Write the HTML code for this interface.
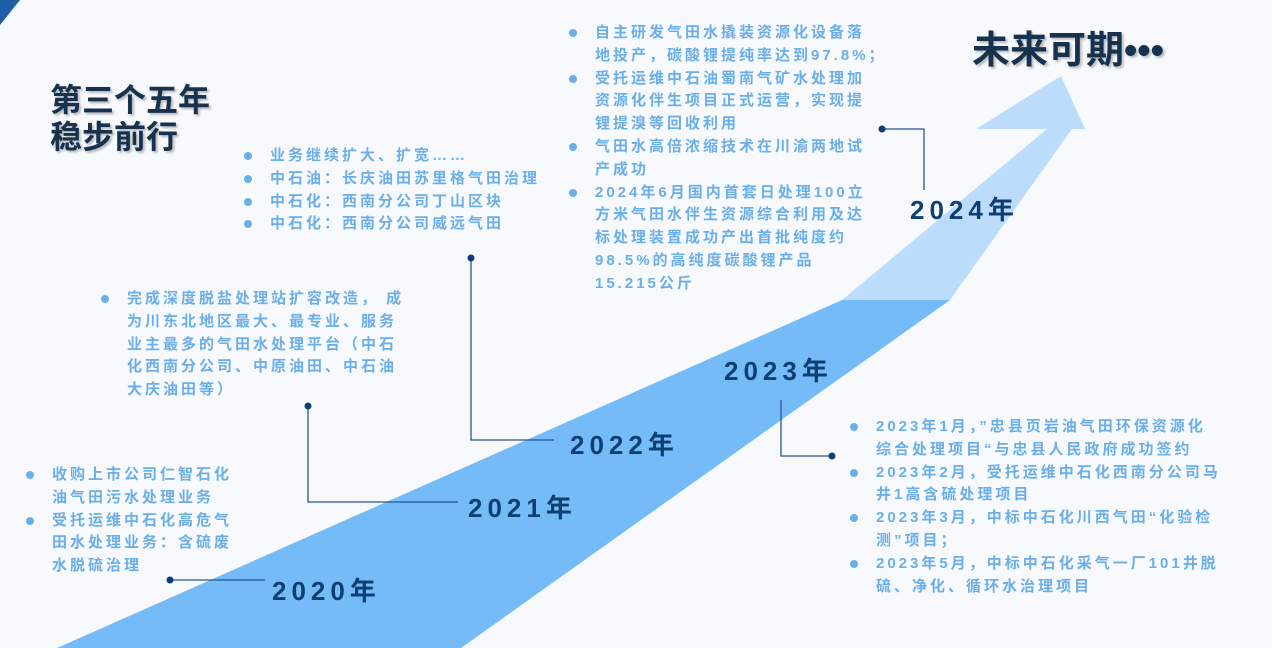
<!DOCTYPE html>
<html><head><meta charset="utf-8"><style>
*{margin:0;padding:0}
body{width:1272px;height:648px;background:#f7f9fc;position:relative;overflow:hidden;font-family:"Liberation Sans","Noto Sans CJK SC",sans-serif}
svg{position:absolute;left:0;top:0}
.t{position:absolute;color:#6aaeea;font-weight:bold;font-size:15px;line-height:22.8px;letter-spacing:3px;white-space:nowrap}
.t div{position:relative}
.t div.b::before{content:"";position:absolute;left:-26px;top:7px;width:8px;height:8px;border-radius:50%;background:#6aaeea}
.y{position:absolute;color:#0e3f74;font-weight:bold;font-size:26px;letter-spacing:5px;white-space:nowrap;line-height:30px}
.h{position:absolute;color:#17324f;font-weight:bold;white-space:nowrap;text-shadow:2px 2px 2px rgba(0,0,0,0.25)}
</style></head><body>
<svg width="1272" height="648">
<polygon points="0,0 20,0 0,25" fill="#1f5fa8"/>
<polygon points="57,648 842,300 950,300 461,648" fill="#74bbf8"/>
<polygon points="842,300 1047,129 976,129 1061,76 1085,129 1072,129 950,300" fill="#bbddfb"/>
<g stroke="#24578f" stroke-width="1.3" fill="none">
<polyline points="170,580 265,580"/>
<polyline points="308,406 308,502 458,502"/>
<polyline points="471,258 471,440 554,440"/>
<polyline points="781,400 781,456 832,456"/>
<polyline points="882,129 924,129 924,190"/>
</g>
<g fill="#0e3f74">
<circle cx="170" cy="580" r="3.5"/><circle cx="308" cy="406" r="3.5"/><circle cx="471" cy="258" r="3.5"/><circle cx="832" cy="456" r="3.5"/><circle cx="882" cy="129" r="3.5"/>
</g>
</svg>
<div class="h" style="left:50px;top:82px;font-size:32px;line-height:37px">第三个五年<br>稳步前行</div>
<div class="h" style="left:972px;top:28px;font-size:38px;line-height:46px">未来可期•••</div>

<div class="t" style="left:595px;top:22px">
<div class="b">自主研发气田水撬装资源化设备落</div><div>地投产，碳酸锂提纯率达到97.8%；</div>
<div class="b">受托运维中石油蜀南气矿水处理加</div><div>资源化伴生项目正式运营，实现提</div><div>锂提溴等回收利用</div>
<div class="b">气田水高倍浓缩技术在川渝两地试</div><div>产成功</div>
<div class="b">2024年6月国内首套日处理100立</div><div>方米气田水伴生资源综合利用及达</div><div>标处理装置成功产出首批纯度约</div><div>98.5%的高纯度碳酸锂产品</div><div>15.215公斤</div>
</div>
<div class="t" style="left:270px;top:145px">
<div class="b">业务继续扩大、扩宽……</div><div class="b">中石油：长庆油田苏里格气田治理</div><div class="b">中石化：西南分公司丁山区块</div><div class="b">中石化：西南分公司威远气田</div>
</div>
<div class="t" style="left:127px;top:288px">
<div class="b">完成深度脱盐处理站扩容改造， 成</div><div>为川东北地区最大、最专业、服务</div><div>业主最多的气田水处理平台（中石</div><div>化西南分公司、中原油田、中石油</div><div>大庆油田等）</div>
</div>
<div class="t" style="left:52px;top:464px">
<div class="b">收购上市公司仁智石化</div><div>油气田污水处理业务</div><div class="b">受托运维中石化高危气</div><div>田水处理业务：含硫废</div><div>水脱硫治理</div>
</div>
<div class="t" style="left:876px;top:416px">
<div class="b">2023年1月，”忠县页岩油气田环保资源化</div><div>综合处理项目“与忠县人民政府成功签约</div>
<div class="b">2023年2月，受托运维中石化西南分公司马</div><div>井1高含硫处理项目</div>
<div class="b">2023年3月，中标中石化川西气田“化验检</div><div>测”项目；</div>
<div class="b">2023年5月，中标中石化采气一厂101井脱</div><div>硫、净化、循环水治理项目</div>
</div>

<div class="y" style="left:272px;top:576px">2020年</div>
<div class="y" style="left:468px;top:493px">2021年</div>
<div class="y" style="left:570px;top:430px">2022年</div>
<div class="y" style="left:724px;top:356px">2023年</div>
<div class="y" style="left:910px;top:195px">2024年</div>
</body></html>
